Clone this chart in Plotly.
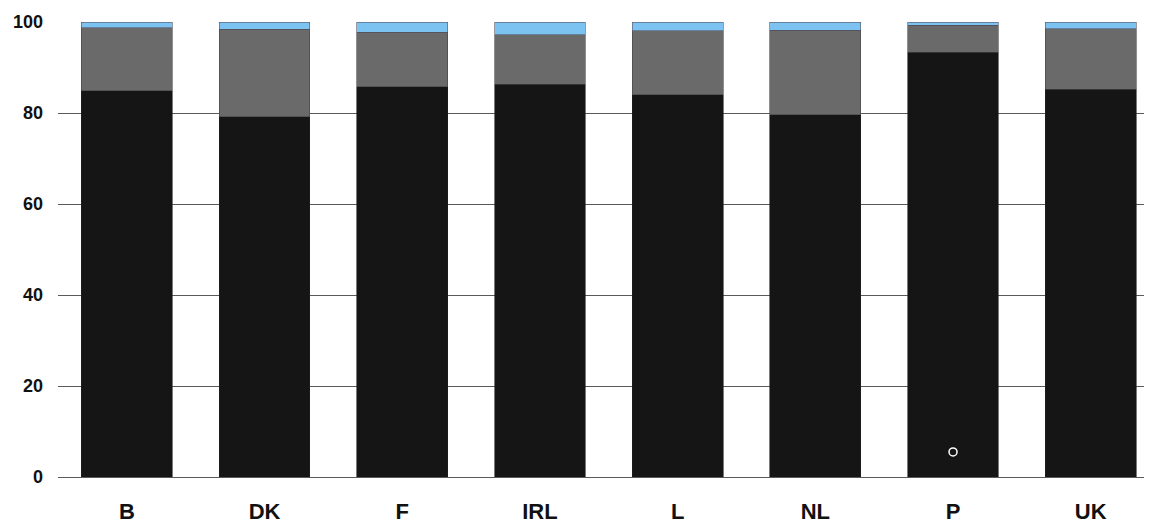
import plotly.graph_objects as go

categories = ["B", "DK", "F", "IRL", "L", "NL", "P", "UK"]
black_vals = [84.9, 79.2, 85.8, 86.3, 84.0, 79.6, 93.3, 85.2]
gray_vals = [13.8, 19.2, 11.9, 10.9, 14.1, 18.6, 6.0, 13.3]
blue_vals = [1.3, 1.6, 2.3, 2.8, 1.9, 1.8, 0.7, 1.5]
y_ticks = [0, 20, 40, 60, 80, 100]

fig = go.Figure()
fig.add_trace(go.Bar(x=categories, y=black_vals, marker=dict(color="#151515", line=dict(width=0.6, color="#222")), width=0.66))
fig.add_trace(go.Bar(x=categories, y=gray_vals, marker=dict(color="#6a6a6a", line=dict(width=0.6, color="#444")), width=0.66))
fig.add_trace(go.Bar(x=categories, y=blue_vals, marker=dict(color="#7dc3f2", line=dict(width=0.6, color="#556")), width=0.66))
fig.add_trace(go.Scatter(x=["P"], y=[5.5], mode="markers",
                         marker=dict(symbol="circle-open", size=8, color="white", line=dict(width=1.5, color="white")),
                         hoverinfo="skip"))

# page body has an 8px default margin, so the figure is sized to fit inside the window
fig.update_layout(
    barmode="stack",
    width=1144, height=515,
    margin=dict(l=50, r=0, t=14, b=46),
    paper_bgcolor="white", plot_bgcolor="white",
    showlegend=False,
    bargap=0.34,
)
fig.update_xaxes(
    range=[-0.5, 7.445], automargin=False,
    showgrid=False, zeroline=False, showline=False,
    ticks="", ticklabelstandoff=19,
    tickfont=dict(family="Liberation Sans, Arial", size=22, color="#111", weight="bold"),
)
fig.update_yaxes(
    range=[0, 100], tickvals=y_ticks, automargin=False,
    showgrid=True, gridcolor="#5a5a5a", gridwidth=1,
    zeroline=True, zerolinecolor="#5a5a5a", zerolinewidth=1,
    showline=False, ticks="", ticklabelstandoff=14,
    tickfont=dict(family="Liberation Sans, Arial", size=18, color="#111", weight="bold"),
)
fig.write_html("out.html")
